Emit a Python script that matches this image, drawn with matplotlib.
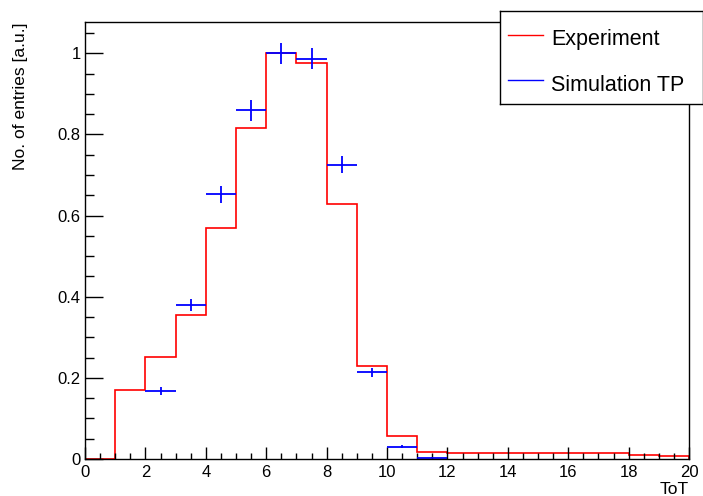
import numpy as np
import matplotlib
matplotlib.use('Agg')
import matplotlib.pyplot as plt
from matplotlib.ticker import MultipleLocator

plt.rcParams['font.family'] = ['Liberation Sans', 'DejaVu Sans']

# ToT binning, unit-width bins from 0 to 20
edges = np.arange(0, 21, 1)

# measured ToT distribution, normalised to the peak bin
experiment = [0.0, 0.169, 0.251, 0.356, 0.570, 0.815, 1.0, 0.976, 0.629, 0.230,
              0.057, 0.018, 0.016, 0.016, 0.015, 0.016, 0.015, 0.014, 0.011, 0.008]

# simulated bins (only the filled ones), with their errors
sim_tot = [2.5, 3.5, 4.5, 5.5, 6.5, 7.5, 8.5, 9.5, 10.5, 11.5]
simulation = [0.168, 0.379, 0.653, 0.859, 1.0, 0.987, 0.725, 0.214, 0.030, 0.003]
sim_err = [0.010, 0.015, 0.021, 0.025, 0.026, 0.025, 0.021, 0.011, 0.004, 0.001]

fig = plt.figure(figsize=(7.03, 4.96), dpi=100)
ax = fig.add_axes([85 / 703, 1 - 459 / 496, 604 / 703, 437 / 496])

ax.stairs(experiment, edges, color='red', linewidth=1.2)
ax.errorbar(sim_tot, simulation, xerr=0.5, yerr=sim_err, fmt='none',
            ecolor='blue', elinewidth=1.3, capsize=0)

ax.set_xlim(0, 20)
ax.set_ylim(0, 1.077)

ax.xaxis.set_major_locator(MultipleLocator(2))
ax.xaxis.set_minor_locator(MultipleLocator(0.5))
ax.yaxis.set_major_locator(MultipleLocator(0.2))
ax.yaxis.set_minor_locator(MultipleLocator(0.05))
ax.set_yticks([0, 0.2, 0.4, 0.6, 0.8, 1.0], ['0', '0.2', '0.4', '0.6', '0.8', '1'])

ax.tick_params(axis='x', which='major', direction='in', length=9, width=1, labelsize=12, pad=4)
ax.tick_params(axis='x', which='minor', direction='in', length=4.5, width=1)
ax.tick_params(axis='y', which='major', direction='in', length=13, width=1, labelsize=12, pad=3)
ax.tick_params(axis='y', which='minor', direction='in', length=6.5, width=1)

for s in ax.spines.values():
    s.set_linewidth(1)

ax.set_ylabel('No. of entries [a.u.]', fontsize=12.5, loc='top')
ax.yaxis.set_label_coords(-0.094, 1.0)
ax.set_xlabel('ToT', fontsize=12.5, loc='right')
ax.xaxis.set_label_coords(1.0, -0.053)

# legend box in the top right corner
leg = fig.add_axes([500 / 703, 1 - 104 / 496, 203 / 703, 93 / 496])
leg.set_xlim(0, 1)
leg.set_ylim(0, 1)
leg.set_xticks([])
leg.set_yticks([])
for s in leg.spines.values():
    s.set_linewidth(1)
leg.plot([0.04, 0.212], [0.747, 0.747], color='red', linewidth=1)
leg.plot([0.04, 0.212], [0.253, 0.253], color='blue', linewidth=1)
leg.text(0.251, 0.634, 'Experiment', fontsize=15.5, va='baseline')
leg.text(0.251, 0.143, 'Simulation TP', fontsize=15.5, va='baseline')

fig.savefig('out.png', dpi=100)
